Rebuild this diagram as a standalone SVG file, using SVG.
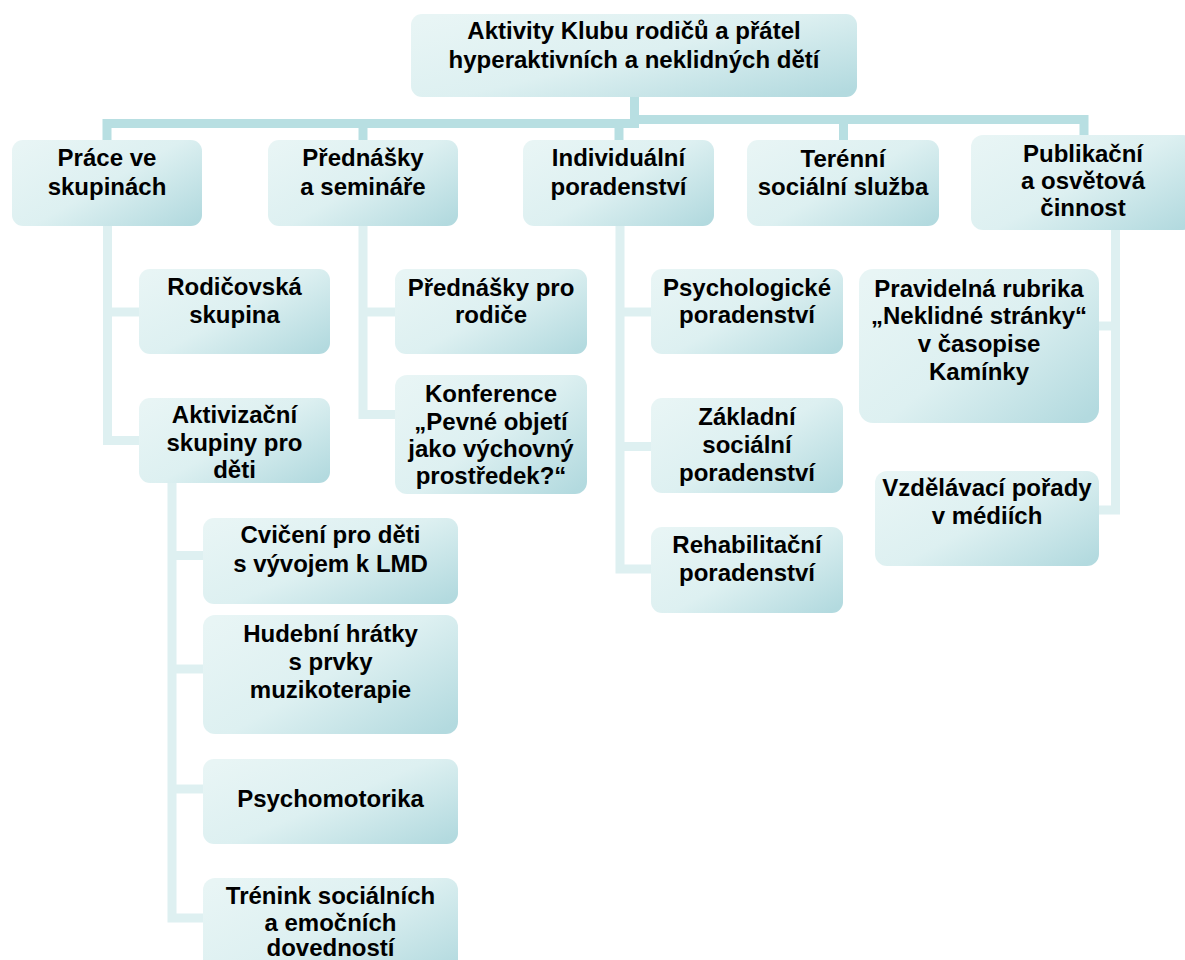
<svg xmlns="http://www.w3.org/2000/svg" width="1185" height="960" viewBox="0 0 1185 960">
<defs>
<linearGradient id="g" x1="0" y1="0.1" x2="1" y2="0.9">
<stop offset="0" stop-color="#e8f5f5"/>
<stop offset="0.5" stop-color="#ddf0f1"/>
<stop offset="1" stop-color="#b3dadf"/>
</linearGradient>
<style>
.b{fill:url(#g);}
.t{font-family:"Liberation Sans",Arial,Helvetica,sans-serif;font-weight:bold;font-size:24px;fill:#000;text-anchor:middle;}
.c1{fill:none;stroke:#b8dfe2;stroke-width:9;}
.c2{fill:none;stroke:#def0f1;stroke-width:9;}
</style>
</defs>
<rect width="1185" height="960" fill="#fff"/>
<g id="connectors">
<path class="c1" d="M634.5,97 V119.5"/>
<path class="c1" d="M107,140 V123.5 H639"/>
<path class="c1" d="M363,140 V123.5"/>
<path class="c1" d="M619,140 V123.5"/>
<path class="c1" d="M630,119.5 H1084 V135"/>
<path class="c1" d="M843.5,119.5 V140"/>
<path class="c2" d="M107.5,226 V440.5 H139"/>
<path class="c2" d="M107.5,312 H139"/>
<path class="c2" d="M363,226 V414.5 H395"/>
<path class="c2" d="M363,312 H395"/>
<path class="c2" d="M620,226 V569 H651"/>
<path class="c2" d="M620,312 H651"/>
<path class="c2" d="M620,446.5 H651"/>
<path class="c2" d="M172,483 V918 H203"/>
<path class="c2" d="M172,555.5 H203"/>
<path class="c2" d="M172,669 H203"/>
<path class="c2" d="M172,789 H203"/>
<path class="c2" d="M1115.5,230 V510 H1099"/>
<path class="c2" d="M1115.5,326 H1099"/>
</g>
<g id="root"><rect class="b" x="411" y="14" width="446" height="83" rx="11"/>
<text class="t" x="634" y="39">Aktivity Klubu rodičů a přátel</text>
<text class="t" x="634" y="68">hyperaktivních a neklidných dětí</text></g>
<g id="prace"><rect class="b" x="12" y="140" width="190" height="86" rx="11"/>
<text class="t" x="107" y="166">Práce ve</text><text class="t" x="107" y="195">skupinách</text></g>
<g id="prednasky"><rect class="b" x="268" y="140" width="190" height="86" rx="11"/>
<text class="t" x="363" y="166">Přednášky</text><text class="t" x="363" y="195">a semináře</text></g>
<g id="individualni"><rect class="b" x="523" y="140" width="191" height="86" rx="11"/>
<text class="t" x="618.5" y="166">Individuální</text><text class="t" x="618.5" y="195">poradenství</text></g>
<g id="terenni"><rect class="b" x="747" y="140" width="192" height="86" rx="11"/>
<text class="t" x="843" y="167">Terénní</text><text class="t" x="843" y="195">sociální služba</text></g>
<g id="publikacni"><rect class="b" x="971" y="135" width="224" height="95" rx="12"/>
<text class="t" x="1083" y="162">Publikační</text><text class="t" x="1083" y="189">a osvětová</text><text class="t" x="1083" y="216">činnost</text></g>
<g id="rodicovska"><rect class="b" x="139" y="269" width="191" height="85" rx="11"/>
<text class="t" x="234.5" y="295">Rodičovská</text><text class="t" x="234.5" y="323">skupina</text></g>
<g id="aktivizacni"><rect class="b" x="139" y="398" width="191" height="85" rx="11"/>
<text class="t" x="234.5" y="423">Aktivizační</text><text class="t" x="234.5" y="451">skupiny pro</text><text class="t" x="234.5" y="478">děti</text></g>
<g id="prednasky-rodice"><rect class="b" x="395" y="269" width="192" height="85" rx="11"/>
<text class="t" x="491" y="296">Přednášky pro</text><text class="t" x="491" y="323">rodiče</text></g>
<g id="konference"><rect class="b" x="395" y="375" width="192" height="119" rx="12"/>
<text class="t" x="491" y="402">Konference</text><text class="t" x="491" y="430">„Pevné objetí</text><text class="t" x="491" y="457">jako výchovný</text><text class="t" x="491" y="484">prostředek?“</text></g>
<g id="psychologicke"><rect class="b" x="651" y="269" width="192" height="85" rx="11"/>
<text class="t" x="747" y="296">Psychologické</text><text class="t" x="747" y="323">poradenství</text></g>
<g id="zakladni"><rect class="b" x="651" y="398" width="192" height="95" rx="11"/>
<text class="t" x="747" y="425">Základní</text><text class="t" x="747" y="453">sociální</text><text class="t" x="747" y="481">poradenství</text></g>
<g id="rehabilitacni"><rect class="b" x="651" y="527" width="192" height="86" rx="11"/>
<text class="t" x="747" y="553">Rehabilitační</text><text class="t" x="747" y="581">poradenství</text></g>
<g id="pravidelna"><rect class="b" x="859" y="269" width="240" height="154" rx="14"/>
<text class="t" x="979" y="297">Pravidelná rubrika</text><text class="t" x="979" y="324">„Neklidné stránky“</text><text class="t" x="979" y="352">v časopise</text><text class="t" x="979" y="380">Kamínky</text></g>
<g id="vzdelavaci"><rect class="b" x="875" y="471" width="224" height="95" rx="12"/>
<text class="t" x="987" y="496">Vzdělávací pořady</text><text class="t" x="987" y="524">v médiích</text></g>
<g id="cviceni"><rect class="b" x="203" y="518" width="255" height="86" rx="11"/>
<text class="t" x="330.5" y="543">Cvičení pro děti</text><text class="t" x="330.5" y="572">s vývojem k LMD</text></g>
<g id="hudebni"><rect class="b" x="203" y="615" width="255" height="119" rx="12"/>
<text class="t" x="330.5" y="642">Hudební hrátky</text><text class="t" x="330.5" y="670">s prvky</text><text class="t" x="330.5" y="698">muzikoterapie</text></g>
<g id="psychomotorika"><rect class="b" x="203" y="759" width="255" height="85" rx="11"/>
<text class="t" x="330.5" y="807">Psychomotorika</text></g>
<g id="trenink"><rect class="b" x="203" y="878" width="255" height="100" rx="12"/>
<text class="t" x="330.5" y="904">Trénink sociálních</text><text class="t" x="330.5" y="931">a emočních</text><text class="t" x="330.5" y="956">dovedností</text></g>
</svg>
